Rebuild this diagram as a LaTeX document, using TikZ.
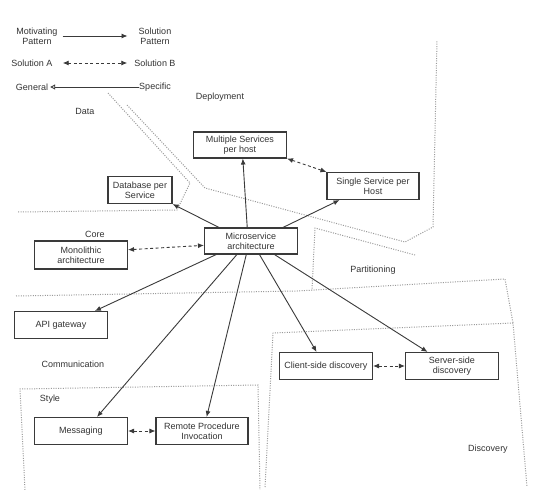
\documentclass[tikz,border=0pt]{standalone}
\usepackage{fontspec}
\setmainfont{Liberation Sans}
\usetikzlibrary{arrows.meta,calc,shadows}
\definecolor{txt}{HTML}{333333}
\definecolor{edgec}{HTML}{3A3A3A}
\definecolor{dots}{HTML}{9A9A9A}
\begin{document}
\begin{tikzpicture}[x=1pt,y=-1pt,
  font=\fontsize{9}{10.3}\selectfont,
  box/.style={draw=edgec, line width=1.1pt, fill=white, align=center, text=txt,
    minimum width=93pt, minimum height=27pt, inner sep=1pt,
    drop shadow={shadow xshift=0.8pt, shadow yshift=-0.8pt, opacity=0.3, fill=black}},
  lbl/.style={text=txt, inner sep=0pt, align=center},
  conn/.style={draw=edgec, line width=0.9pt, -{Latex[length=6pt,width=5pt]}},
  dconn/.style={draw=edgec, line width=0.9pt, dash pattern=on 3pt off 2.5pt,
    {Latex[length=6pt,width=5pt]}-{Latex[length=6pt,width=5pt]}},
  gconn/.style={draw=edgec, line width=0.9pt, {Triangle[open,length=5pt,width=5pt]}-},
  region/.style={draw=dots, line width=1pt, dash pattern=on 1pt off 1.4pt}
]
\useasboundingbox[fill=white] (0,0) rectangle (550,490);

% region boundaries (dotted)
\draw[region] (108,93) -- (190,183) -- (177,210) -- (18,212);
\draw[region] (127,105) -- (205,188) -- (405,242) -- (433,227) -- (437,40);
\draw[region] (415,255) -- (315,228) -- (312,290);
\draw[region] (16,296) -- (297,291) -- (505,279) -- (513,323);
\draw[region] (265,487) -- (273,333) -- (513,323) -- (527,487);
\draw[region] (25,490) -- (20,389) -- (258,385) -- (260,490);

% legend
\node[lbl] (mot) at (37,36) {Motivating\\Pattern};
\node[lbl] (sol) at (155,36) {Solution\\Pattern};
\node[lbl] (sa) at (32,63) {Solution A};
\node[lbl] (sb) at (155,63) {Solution B};
\node[lbl] (gen) at (32,87) {General};
\node[lbl] (spe) at (155,87) {Specific};
\draw[conn, shorten <=5pt, shorten >=11pt] (mot) -- (sol);
\draw[dconn, shorten <=10pt, shorten >=7pt] (sa) -- (sb);
\draw[gconn, shorten <=2pt, shorten >=0pt] (gen) -- (spe);

% region labels
\node[lbl] (ldata) at (85,111) {Data};
\node[lbl] (ldep) at (220,97) {Deployment};
\node[lbl] (lcore) at (95,234) {Core};
\node[lbl] (lpart) at (373,270) {Partitioning};
\node[lbl] (lcomm) at (73,364) {Communication};
\node[lbl] (lstyle) at (50,399) {Style};
\node[lbl] (ldisc) at (488,449) {Discovery};

% boxes
\node[box, minimum height=26pt] (mult) at (240,145) {Multiple Services\\per host};
\node[box, minimum width=92pt] (single) at (373,186) {Single Service per\\Host};
\node[box, minimum width=64pt] (db) at (140,190) {Database per\\Service};
\node[box, minimum height=28pt] (mono) at (81,255) {Monolithic\\architecture};
\node[box, minimum height=26pt] (micro) at (251,241) {Microservice\\architecture};
\node[box] (api) at (61,325) {API gateway};
\node[box] (msg) at (81,431) {Messaging};
\node[box, minimum width=92pt] (rpi) at (202,431) {Remote Procedure\\Invocation};
\node[box] (client) at (326,366) {Client-side discovery};
\node[box] (server) at (452,366) {Server-side\\discovery};

% anchor points
\coordinate (mt1) at ($(micro.north west)!0.16!(micro.north east)$);
\coordinate (mt2) at ($(micro.north west)!0.46!(micro.north east)$);
\coordinate (mt3) at ($(micro.north west)!0.84!(micro.north east)$);
\coordinate (mb1) at ($(micro.south west)!0.13!(micro.south east)$);
\coordinate (mb2) at ($(micro.south west)!0.35!(micro.south east)$);
\coordinate (mb3) at ($(micro.south west)!0.45!(micro.south east)$);
\coordinate (mb4) at ($(micro.south west)!0.59!(micro.south east)$);
\coordinate (mb5) at ($(micro.south west)!0.75!(micro.south east)$);
\coordinate (multb) at ($(mult.south west)!0.53!(mult.south east)$);
\coordinate (singb) at ($(single.south west)!0.14!(single.south east)$);
\coordinate (apit) at ($(api.north west)!0.86!(api.north east)$);
\coordinate (msgt) at ($(msg.north west)!0.67!(msg.north east)$);
\coordinate (rpit) at ($(rpi.north west)!0.55!(rpi.north east)$);
\coordinate (clit) at ($(client.north west)!0.40!(client.north east)$);
\coordinate (sert) at ($(server.north west)!0.24!(server.north east)$);
\coordinate (monoe) at ($(mono.north east)!0.32!(mono.south east)$);
\coordinate (microw) at ($(micro.north west)!0.66!(micro.south west)$);

% connectors
\draw[conn] (mt2) -- (multb);
\draw[conn] (mt3) -- (singb);
\draw[conn] (mt1) -- (db.south east);
\draw[conn] (mb1) -- (apit);
\draw[conn] (mb2) -- (msgt);
\draw[conn] (mb3) -- (rpit);
\draw[conn] (mb4) -- (clit);
\draw[conn] (mb5) -- (sert);
\draw[dconn] (monoe) -- (microw);
\draw[dconn] (mult.south east) -- (single.north west);
\draw[dconn] (client.east) -- (server.west);
\draw[dconn] (msg.east) -- (rpi.west);
\end{tikzpicture}
\end{document}
